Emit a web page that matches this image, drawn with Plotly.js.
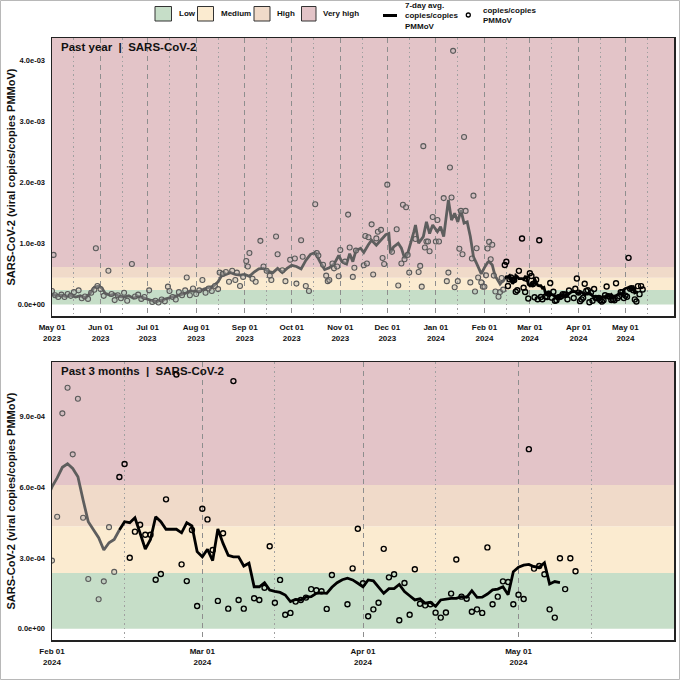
<!DOCTYPE html>
<html><head><meta charset="utf-8">
<script src="https://cdn.plot.ly/plotly-3.0.1.min.js"></script>
<style>html,body{margin:0;padding:0;background:#fff}#chart{width:680px;height:680px}</style>
</head><body><div id="chart"></div><script>
// ---------- data ----------
const levelNames = ['Low','Medium','High','Very high'];
const levelColors = ['#c6dec8','#fbebd0','#f0dac9','#e3c4c8'];
const levelBreaks = [0, 0.000236, 0.000435, 0.00061];

const topTickVals = ['2023-05-01','2023-06-01','2023-07-01','2023-08-01','2023-09-01','2023-10-01','2023-11-01','2023-12-01','2024-01-01','2024-02-01','2024-03-01','2024-04-01','2024-05-01'];
const topTickText = ['May 01<br>2023','Jun 01<br>2023','Jul 01<br>2023','Aug 01<br>2023','Sep 01<br>2023','Oct 01<br>2023','Nov 01<br>2023','Dec 01<br>2023','Jan 01<br>2024','Feb 01<br>2024','Mar 01<br>2024','Apr 01<br>2024','May 01<br>2024'];
const botTickVals = ['2024-02-01','2024-03-01','2024-04-01','2024-05-01'];
const botTickText = ['Feb 01<br>2024','Mar 01<br>2024','Apr 01<br>2024','May 01<br>2024'];
const topYVals = [0, 0.001, 0.002, 0.003, 0.004];
const topYText = ['0.0e+00','1.0e-03','2.0e-03','3.0e-03','4.0e-03'];
const botYVals = [0, 0.0003, 0.0006, 0.0009];
const botYText = ['0.0e+00','3.0e-04','6.0e-04','9.0e-04'];

// 7-day average, older part (grey)
const lineOldDates = ['2023-05-01','2023-05-04','2023-05-07','2023-05-10','2023-05-13','2023-05-16','2023-05-19','2023-05-22','2023-05-25','2023-05-28','2023-05-31','2023-06-02','2023-06-04','2023-06-07','2023-06-10','2023-06-13','2023-06-16','2023-06-19','2023-06-22','2023-06-25','2023-06-28','2023-07-01','2023-07-04','2023-07-07','2023-07-10','2023-07-13','2023-07-16','2023-07-19','2023-07-22','2023-07-25','2023-07-28','2023-07-31','2023-08-03','2023-08-06','2023-08-09','2023-08-12','2023-08-15','2023-08-17','2023-08-20','2023-08-23','2023-08-26','2023-08-29','2023-09-01','2023-09-04','2023-09-07','2023-09-10','2023-09-13','2023-09-16','2023-09-19','2023-09-22','2023-09-25','2023-09-28','2023-10-01','2023-10-04','2023-10-07','2023-10-10','2023-10-13','2023-10-16','2023-10-19','2023-10-22','2023-10-25','2023-10-28','2023-10-31','2023-11-02','2023-11-05','2023-11-07','2023-11-09','2023-11-11','2023-11-14','2023-11-16','2023-11-19','2023-11-21','2023-11-24','2023-11-27','2023-11-30','2023-12-02','2023-12-03','2023-12-05','2023-12-08','2023-12-10','2023-12-12','2023-12-14','2023-12-16','2023-12-18','2023-12-19','2023-12-21','2023-12-24','2023-12-26','2023-12-28','2023-12-30','2024-01-02','2024-01-04','2024-01-06','2024-01-09','2024-01-11','2024-01-13','2024-01-15','2024-01-17','2024-01-19','2024-01-21','2024-01-23','2024-01-25','2024-01-27','2024-01-30',
  '2024-02-01','2024-02-02','2024-02-03','2024-02-04','2024-02-05','2024-02-06','2024-02-07','2024-02-08','2024-02-09','2024-02-10','2024-02-11','2024-02-12','2024-02-13','2024-02-14'];
const lineOldVals = [1.6e-4,1.4e-4,1.5e-4,1.3e-4,1.5e-4,1.2e-4,1.4e-4,1.1e-4,1.7e-4,2.8e-4,3.0e-4,2.6e-4,1.8e-4,1.5e-4,1.7e-4,1.3e-4,1.2e-4,1.4e-4,1.0e-4,1.3e-4,1.1e-4,0.8e-4,0.6e-4,0.5e-4,0.7e-4,1.0e-4,1.2e-4,1.4e-4,1.6e-4,1.8e-4,2.2e-4,2.1e-4,2.1e-4,2.5e-4,2.7e-4,3.0e-4,3.7e-4,4.6e-4,4.9e-4,5.2e-4,4.9e-4,4.8e-4,4.9e-4,4.6e-4,5.3e-4,5.8e-4,5.9e-4,5.4e-4,5.2e-4,5.9e-4,5.2e-4,5.9e-4,6.4e-4,6.2e-4,5.8e-4,7.2e-4,8.2e-4,8.5e-4,7.0e-4,5.7e-4,6.0e-4,6.6e-4,8.0e-4,7.0e-4,6.6e-4,8.3e-4,7.0e-4,8.8e-4,9.2e-4,8.5e-4,9.8e-4,10.5e-4,9.7e-4,10.6e-4,11.4e-4,11.6e-4,8.5e-4,9.4e-4,10.0e-4,9.2e-4,7.6e-4,8.3e-4,10.0e-4,11.9e-4,13.0e-4,10.0e-4,11.1e-4,13.5e-4,11.6e-4,13.0e-4,11.9e-4,12.7e-4,11.1e-4,17.1e-4,13.8e-4,14.9e-4,13.5e-4,15.4e-4,13.3e-4,13.5e-4,11.1e-4,7.8e-4,6.7e-4,5.0e-4,
  6.02e-4,6.4e-4,6.85e-4,7.0e-4,6.8e-4,6.45e-4,5.46e-4,4.54e-4,4.2e-4,3.86e-4,3.34e-4,3.65e-4,3.79e-4,4.19e-4];

// 7-day average, recent part (black)
const lineNewDates = ['2024-02-14','2024-02-15','2024-02-16','2024-02-17','2024-02-18','2024-02-19','2024-02-20','2024-02-21','2024-02-22','2024-02-23','2024-02-24','2024-02-25','2024-02-26','2024-02-27','2024-02-28','2024-02-29',
  '2024-03-01','2024-03-02','2024-03-03','2024-03-04','2024-03-05','2024-03-06','2024-03-07','2024-03-08','2024-03-09','2024-03-10','2024-03-11','2024-03-12','2024-03-13','2024-03-14','2024-03-15','2024-03-16','2024-03-17','2024-03-18','2024-03-19','2024-03-20','2024-03-21','2024-03-22','2024-03-23','2024-03-24','2024-03-25','2024-03-26','2024-03-27','2024-03-28','2024-03-29','2024-03-30','2024-03-31',
  '2024-04-01','2024-04-02','2024-04-03','2024-04-04','2024-04-05','2024-04-06','2024-04-07','2024-04-08','2024-04-09','2024-04-10','2024-04-11','2024-04-12','2024-04-13','2024-04-14','2024-04-15','2024-04-16','2024-04-17','2024-04-18','2024-04-19','2024-04-20','2024-04-21','2024-04-22','2024-04-23','2024-04-24','2024-04-25','2024-04-26','2024-04-27','2024-04-28','2024-04-29','2024-04-30',
  '2024-05-01','2024-05-02','2024-05-03','2024-05-04','2024-05-05','2024-05-06','2024-05-07','2024-05-08','2024-05-09'];
const lineNewVals = [4.19e-4,4.54e-4,4.5e-4,4.71e-4,4.05e-4,3.38e-4,3.79e-4,4.75e-4,4.54e-4,4.22e-4,4.22e-4,4.22e-4,4.07e-4,4.5e-4,4.36e-4,3.27e-4,
  3.05e-4,3.37e-4,2.89e-4,4.23e-4,3.62e-4,3.11e-4,3.05e-4,3.05e-4,2.66e-4,2.78e-4,1.78e-4,1.78e-4,1.95e-4,1.64e-4,1.58e-4,1.54e-4,1.43e-4,1.15e-4,1.24e-4,1.22e-4,1.34e-4,1.36e-4,1.5e-4,1.52e-4,1.5e-4,1.76e-4,1.95e-4,2.08e-4,2.14e-4,2.07e-4,1.93e-4,
  1.78e-4,2.07e-4,2.03e-4,1.76e-4,1.5e-4,1.7e-4,1.7e-4,1.88e-4,1.58e-4,1.4e-4,1.22e-4,1.27e-4,1.08e-4,1.12e-4,0.95e-4,1.22e-4,1.27e-4,1.29e-4,1.29e-4,1.36e-4,1.33e-4,1.61e-4,1.33e-4,1.34e-4,1.47e-4,1.65e-4,1.68e-4,1.78e-4,1.44e-4,2.42e-4,
  2.61e-4,2.7e-4,2.73e-4,2.63e-4,2.61e-4,2.8e-4,1.9e-4,2.0e-4,1.96e-4];

// individual samples, older (grey)
const ptOldDates = ['2023-05-01','2023-05-02','2023-05-03','2023-05-05','2023-05-07','2023-05-09','2023-05-11','2023-05-13','2023-05-15','2023-05-18','2023-05-20','2023-05-22','2023-05-24','2023-05-26','2023-05-28','2023-05-29','2023-05-30','2023-06-01','2023-06-03','2023-06-06','2023-06-08','2023-06-10','2023-06-12','2023-06-14','2023-06-16','2023-06-18','2023-06-21','2023-06-23','2023-06-25','2023-06-27','2023-06-29','2023-07-02','2023-07-04','2023-07-06','2023-07-08','2023-07-10','2023-07-12','2023-07-14','2023-07-15','2023-07-17','2023-07-19','2023-07-21','2023-07-23','2023-07-25','2023-07-26','2023-07-28','2023-07-30',
  '2023-08-01','2023-08-03','2023-08-05','2023-08-07','2023-08-09','2023-08-11','2023-08-13','2023-08-15','2023-08-16','2023-08-18','2023-08-20','2023-08-22','2023-08-24','2023-08-26','2023-08-27','2023-08-29','2023-08-31','2023-09-02','2023-09-03','2023-09-04','2023-09-06','2023-09-08','2023-09-11','2023-09-13','2023-09-15','2023-09-17','2023-09-18','2023-09-21','2023-09-22','2023-09-25','2023-09-27','2023-09-30',
  '2023-10-03','2023-10-04','2023-10-07','2023-10-08','2023-10-10','2023-10-12','2023-10-16','2023-10-17','2023-10-18','2023-10-21','2023-10-23','2023-10-24','2023-10-25','2023-10-27','2023-10-28','2023-10-30','2023-10-31','2023-11-01','2023-11-04','2023-11-06','2023-11-07','2023-11-09','2023-11-10','2023-11-11','2023-11-16','2023-11-17','2023-11-18','2023-11-19','2023-11-21','2023-11-22','2023-11-24','2023-11-25','2023-11-27','2023-11-28','2023-11-29',
  '2023-12-01','2023-12-04','2023-12-07','2023-12-08','2023-12-10','2023-12-11','2023-12-12','2023-12-13','2023-12-14','2023-12-15','2023-12-19','2023-12-21','2023-12-22','2023-12-23','2023-12-24','2023-12-25','2023-12-26','2023-12-27','2023-12-28','2023-12-30',
  '2024-01-01','2024-01-02','2024-01-03','2024-01-06','2024-01-08','2024-01-09','2024-01-10','2024-01-11','2024-01-12','2024-01-13','2024-01-15','2024-01-16','2024-01-17','2024-01-18','2024-01-19','2024-01-20','2024-01-23','2024-01-24','2024-01-25','2024-01-26','2024-01-27','2024-01-28','2024-01-30','2024-01-31',
  '2024-02-01','2024-02-02','2024-02-03','2024-02-04','2024-02-05','2024-02-06','2024-02-07','2024-02-08','2024-02-10','2024-02-11','2024-02-12','2024-02-13'];
const ptOldVals = [2.2e-4,8.1e-4,1.5e-4,1.2e-4,1.6e-4,1.2e-4,1.7e-4,1.4e-4,2.0e-4,2.3e-4,1.0e-4,1.3e-4,0.9e-4,1.9e-4,2.4e-4,9.2e-4,3.0e-4,2.5e-4,1.4e-4,5.5e-4,1.7e-4,0.7e-4,1.5e-4,1.0e-4,1.9e-4,0.6e-4,6.6e-4,1.3e-4,1.6e-4,0.9e-4,1.2e-4,2.3e-4,0.4e-4,0.6e-4,0.3e-4,0.8e-4,0.5e-4,2.9e-4,2.2e-4,1.2e-4,0.8e-4,2.0e-4,1.5e-4,2.3e-4,4.4e-4,1.5e-4,2.6e-4,
  1.7e-4,2.3e-4,4.0e-4,1.9e-4,2.6e-4,2.2e-4,3.0e-4,2.5e-4,5.2e-4,5.0e-4,5.3e-4,3.7e-4,5.5e-4,4.0e-4,5.2e-4,3.0e-4,4.5e-4,7.1e-4,6.2e-4,8.4e-4,4.2e-4,3.7e-4,10.4e-4,6.2e-4,5.5e-4,4.7e-4,4.0e-4,11.1e-4,8.2e-4,5.6e-4,3.8e-4,7.3e-4,
  7.5e-4,3.4e-4,10.5e-4,7.8e-4,3.0e-4,2.2e-4,16.4e-4,8.4e-4,8.0e-4,6.5e-4,4.7e-4,3.8e-4,4.0e-4,6.7e-4,5.9e-4,6.2e-4,4.6e-4,8.9e-4,7.0e-4,14.7e-4,9.3e-4,4.5e-4,6.0e-4,8.8e-4,6.4e-4,11.2e-4,6.7e-4,11.0e-4,13.1e-4,4.9e-4,10.8e-4,11.9e-4,12.2e-4,7.6e-4,6.6e-4,
  19.6e-4,8.6e-4,12.3e-4,3.1e-4,6.7e-4,16.3e-4,7.4e-4,15.9e-4,8.1e-4,5.2e-4,10.7e-4,5.3e-4,6.3e-4,2.9e-4,25.9e-4,9.3e-4,10.3e-4,10.3e-4,8.7e-4,14.3e-4,
  10.3e-4,13.8e-4,10.3e-4,17.4e-4,3.8e-4,5.2e-4,22.4e-4,17.5e-4,41.5e-4,2.8e-4,3.8e-4,9.1e-4,15.3e-4,8.2e-4,27.4e-4,15.3e-4,3.6e-4,7.5e-4,17.8e-4,2.1e-4,9.2e-4,4.4e-4,3.6e-4,2.9e-4,
  2.89e-4,4.75e-4,9.14e-4,10.23e-4,7.4e-4,9.76e-4,4.71e-4,2.11e-4,1.25e-4,2.01e-4,4.31e-4,2.41e-4];

// individual samples, recent (black)
const ptNewDates = ['2024-02-14','2024-02-15','2024-02-16','2024-02-17','2024-02-18','2024-02-19','2024-02-20','2024-02-21','2024-02-22','2024-02-23','2024-02-25','2024-02-26','2024-02-27','2024-02-28','2024-02-29',
  '2024-03-01','2024-03-02','2024-03-03','2024-03-04','2024-03-05','2024-03-06','2024-03-07','2024-03-08','2024-03-09','2024-03-11','2024-03-12','2024-03-13','2024-03-14','2024-03-15','2024-03-16','2024-03-17','2024-03-18','2024-03-19','2024-03-20','2024-03-21','2024-03-22','2024-03-23','2024-03-24','2024-03-25','2024-03-26','2024-03-29','2024-03-30','2024-03-31',
  '2024-04-01','2024-04-02','2024-04-03','2024-04-04','2024-04-05','2024-04-06','2024-04-07','2024-04-08','2024-04-09','2024-04-10','2024-04-11','2024-04-12','2024-04-13','2024-04-14','2024-04-15','2024-04-16','2024-04-17','2024-04-18','2024-04-19','2024-04-20','2024-04-21','2024-04-22','2024-04-23','2024-04-24','2024-04-25','2024-04-26','2024-04-27','2024-04-28','2024-04-29','2024-04-30',
  '2024-05-01','2024-05-02','2024-05-03','2024-05-04','2024-05-05','2024-05-06','2024-05-07','2024-05-08','2024-05-09','2024-05-10','2024-05-11','2024-05-12'];
const ptNewVals = [6.44e-4,6.99e-4,3.01e-4,4.12e-4,4.41e-4,3.99e-4,3.99e-4,2.08e-4,2.32e-4,5.49e-4,10.79e-4,2.73e-4,2.02e-4,4.19e-4,0.96e-4,
  5.09e-4,4.64e-4,3.34e-4,1.18e-4,4.05e-4,0.85e-4,10.51e-4,1.22e-4,0.85e-4,1.29e-4,1.22e-4,1.74e-4,3.5e-4,1.1e-4,2.07e-4,0.59e-4,0.67e-4,1.15e-4,1.22e-4,1.32e-4,1.68e-4,1.63e-4,1.59e-4,0.84e-4,2.28e-4,1.04e-4,2.56e-4,4.24e-4,
  1.93e-4,0.53e-4,0.82e-4,1.1e-4,3.39e-4,2.18e-4,2.31e-4,0.36e-4,1.94e-4,0.59e-4,2.52e-4,1.06e-4,0.99e-4,1.04e-4,0.68e-4,0.47e-4,0.69e-4,1.49e-4,2.94e-4,1.36e-4,1.27e-4,0.72e-4,0.82e-4,0.67e-4,3.45e-4,1.04e-4,1.36e-4,2.01e-4,1.98e-4,1.04e-4,
  1.44e-4,1.26e-4,7.62e-4,2.55e-4,2.66e-4,2.31e-4,0.82e-4,0.47e-4,2.99e-4,1.68e-4,2.99e-4,2.44e-4];

// ---------- layout helpers ----------
const W = 680, H = 680, ML = 52, MR = 6, MT = 38, MB = 40;
const PW = W - ML - MR, PH = H - MT - MB;
const px = v => (v - ML) / PW;          // pixel x -> paper
const py = v => (H - MB - v) / PH;      // pixel y -> paper

const FONT = '"Liberation Sans", Arial, Helvetica, sans-serif';
const topRange = [-0.00019, 0.00436];
const botRange = [-0.000048, 0.001132];

const oldLine = '#5e5e5e', newLine = '#000000';
const oldMarker = {symbol:'circle', size:5, color:'rgba(175,175,175,0.35)', line:{color:'#5a5a5a', width:1.1}};
const newMarker = {symbol:'circle-open', size:5, color:'#000', line:{color:'#000', width:1.4}};

function mkTraces(xa, ya) {
  return [
    {type:'scatter', mode:'lines', x:lineOldDates, y:lineOldVals, line:{color:oldLine, width:2.8}, xaxis:xa, yaxis:ya, hoverinfo:'skip'},
    {type:'scatter', mode:'lines', x:lineNewDates, y:lineNewVals, line:{color:newLine, width:2.8}, xaxis:xa, yaxis:ya, hoverinfo:'skip'},
    {type:'scatter', mode:'markers', x:ptOldDates, y:ptOldVals, marker:oldMarker, xaxis:xa, yaxis:ya, cliponaxis:true, hoverinfo:'skip'},
    {type:'scatter', mode:'markers', x:ptNewDates, y:ptNewVals, marker:newMarker, xaxis:xa, yaxis:ya, cliponaxis:true, hoverinfo:'skip'}
  ];
}
const data = mkTraces('x','y').concat(mkTraces('x2','y2'));

const shapes = [];
function bands(xa, ya, range) {
  for (let i = 0; i < levelBreaks.length; i++) {
    shapes.push({type:'rect', layer:'below', xref:xa + ' domain', yref:ya, x0:0, x1:1,
      y0:levelBreaks[i], y1:(i < levelBreaks.length - 1 ? levelBreaks[i+1] : range[1]),
      fillcolor:levelColors[i], line:{width:0}});
  }
}
bands('x','y',topRange);
bands('x2','y2',botRange);

// legend (manual)
const legendBoxes = [[155,171.5],[197.5,213.5],[254,270],[301.5,316]];
const legendTextX = [176.5,219,275,320.5];
const annotations = [];
for (let i = 0; i < levelNames.length; i++) {
  shapes.push({type:'rect', xref:'paper', yref:'paper', x0:px(legendBoxes[i][0]), x1:px(legendBoxes[i][1]), y0:py(21), y1:py(6.5),
    fillcolor:levelColors[i], line:{color:'#333', width:1}});
  annotations.push({xref:'paper', yref:'paper', x:px(legendTextX[i]), y:py(14), xanchor:'left', yanchor:'middle', showarrow:false,
    text:levelNames[i], font:{size:8, weight:700, color:'#111'}});
}
shapes.push({type:'line', xref:'paper', yref:'paper', x0:px(383), x1:px(397), y0:py(15.5), y1:py(15.5), line:{color:'#000', width:3}});
shapes.push({type:'circle', xref:'paper', yref:'paper', x0:px(466.3), x1:px(470.3), y0:py(17), y1:py(13), line:{color:'#000', width:1.3}, fillcolor:'rgba(0,0,0,0)'});
annotations.push({xref:'paper', yref:'paper', x:px(403), y:py(16), xanchor:'left', yanchor:'middle', align:'left', showarrow:false,
  text:'7-day avg.<br>copies/copies<br>PMMoV', font:{size:8, weight:700, color:'#111'}});
annotations.push({xref:'paper', yref:'paper', x:px(481), y:py(15.5), xanchor:'left', yanchor:'middle', align:'left', showarrow:false,
  text:'copies/copies<br>PMMoV', font:{size:8, weight:700, color:'#111'}});

// panel titles
annotations.push({xref:'x domain', yref:'y domain', x:0.012, y:0.997, xanchor:'left', yanchor:'top', showarrow:false,
  text:'Past year\u00a0 |\u00a0 SARS-CoV-2', font:{size:11.5, weight:700, color:'#111'}});
annotations.push({xref:'x2 domain', yref:'y2 domain', x:0.012, y:0.997, xanchor:'left', yanchor:'top', showarrow:false,
  text:'Past 3 months\u00a0 |\u00a0 SARS-CoV-2', font:{size:11.5, weight:700, color:'#111'}});

// outer frame
shapes.push({type:'rect', xref:'paper', yref:'paper', x0:px(0.5), x1:px(679.5), y0:py(679.5), y1:py(0.5), line:{color:'#b8b8b8', width:1}});

function xAxis(ticks, texts, range, tick0, anchor) {
  return {type:'date', anchor:anchor, domain:[0,1], range:range, tickmode:'array', tickvals:ticks, ticktext:texts,
    ticks:'', showgrid:true, gridcolor:'#8e8e8e', gridwidth:1, griddash:'5px,4px',
    minor:{tickmode:'linear', tick0:tick0, dtick:'M1', showgrid:true, gridcolor:'#a0a0a0', gridwidth:1, griddash:'1.5px,3px', ticks:''},
    showline:true, mirror:true, linecolor:'#222', linewidth:1.5, zeroline:false,
    tickfont:{size:8, weight:700, color:'#111'}, ticklabelstandoff:3, fixedrange:true};
}
function yAxis(vals, texts, range, domain, anchor) {
  return {anchor:anchor, domain:domain, range:range, tickmode:'array', tickvals:vals, ticktext:texts, ticks:'',
    showgrid:false, zeroline:false, showline:true, mirror:true, linecolor:'#222', linewidth:1.5,
    tickfont:{size:7.5, weight:700, color:'#111'}, ticklabelstandoff:4,
    title:{text:'SARS-CoV-2 (viral copies/copies PMMoV)', font:{size:11, weight:700, color:'#111'}, standoff:0}, fixedrange:true};
}

const layout = {
  width:W, height:H, margin:{l:ML, r:MR, t:MT, b:MB}, paper_bgcolor:'#fff', plot_bgcolor:'#fff',
  font:{family:FONT, size:8, color:'#111'}, showlegend:false,
  xaxis: xAxis(topTickVals, topTickText, ['2023-05-01','2024-06-01'], '2023-05-15', 'y'),
  yaxis: yAxis(topYVals, topYText, topRange, [(H - MB - 316) / PH, 1], 'x'),
  xaxis2: xAxis(botTickVals, botTickText, ['2024-02-01','2024-05-31'], '2024-02-15', 'y2'),
  yaxis2: yAxis(botYVals, botYText, botRange, [0, (H - MB - 362) / PH], 'x2'),
  shapes:shapes, annotations:annotations
};

Plotly.newPlot('chart', data, layout, {displayModeBar:false, staticPlot:true});
</script></body></html>
